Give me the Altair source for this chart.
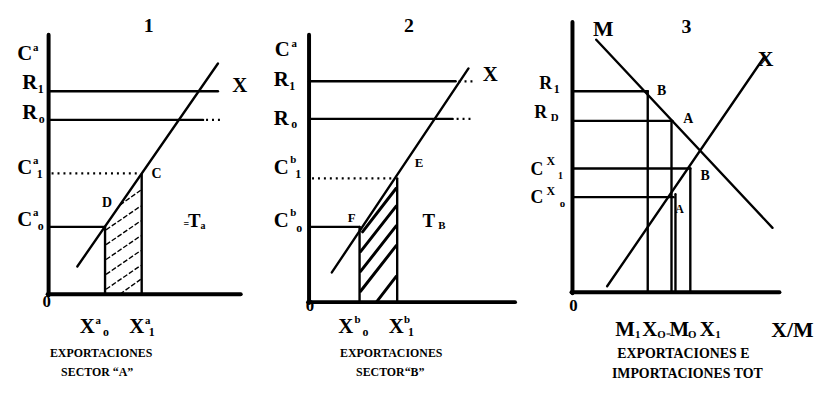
import altair as alt
import pandas as pd

# ---- diagram geometry (reference pixel units) ----
# thick axes: (x1, y1, x2, y2)
axes_segments = [
    (49, 33, 49, 296), (48, 295, 243, 295),
    (312, 33, 312, 304), (311, 303, 520, 303),
    (578, 20, 578, 294), (577, 293, 787, 293),
]
# thin solid lines
solid_segments = [
    # panel 1
    (49, 90, 220, 90), (49, 119, 205, 119), (49, 227, 106, 227),
    (106, 227, 106, 295), (143, 174, 143, 295), (78, 267, 220, 62),
    # panel 2
    (312, 80, 460, 80), (312, 118, 457, 118), (312, 227, 363, 227),
    (363, 227, 363, 303), (401, 178, 401, 303), (335, 273, 473, 67),
    # panel 3
    (578, 90, 654, 90), (578, 120, 679, 120), (578, 168, 697, 168),
    (578, 197, 680, 197), (654, 90, 654, 293), (678, 120, 678, 293),
    (682, 194, 682, 293), (697, 168, 697, 293),
    (602, 38, 780, 228), (613, 287, 772, 55),
]
# dotted lines
dotted_segments = [
    (208, 119, 226, 119), (52, 173, 141, 173),
    (463, 80, 479, 80), (461, 118, 478, 118), (315, 178, 399, 178),
]
# hatching, panel 1 (fine) and panel 2 (heavy)
hatch_fine = [
    (107, 290, 142, 266), (107, 275, 142, 251), (107, 260, 142, 236),
    (107, 245, 142, 221), (107, 230, 142, 206), (121, 205, 142, 190),
    (121, 295, 142, 280),
]
hatch_heavy = [
    (364, 292, 400, 246), (364, 272, 400, 226), (364, 252, 400, 206),
    (366, 232, 400, 188), (380, 303, 400, 277),
]

# ---- text pieces: (text, x, y, size) ----
labels = [
    # panel 1
    ("1", 150, 24, 20),
    ("C", 25, 53, 21), ("a", 36, 46, 11),
    ("R", 30, 82, 21), ("1", 41, 88, 12),
    ("R", 30, 112, 21), ("o", 42, 118, 12),
    ("C", 25, 168, 21), ("a", 36, 161, 11), ("1", 40, 174, 12),
    ("C", 25, 220, 21), ("a", 36, 213, 11), ("o", 41, 226, 12),
    ("0", 47, 303, 17),
    ("X", 242, 85, 21),
    ("D", 108, 203, 14), ("C", 158, 174, 14),
    ("=", 188, 224, 10), ("T", 196, 221, 19), ("a", 205, 226, 10),
    ("X", 88, 328, 21), ("a", 99, 322, 11), ("o", 107, 333, 12),
    ("X", 138, 328, 21), ("a", 149, 322, 11), ("1", 153, 333, 12),
    ("EXPORTACIONES", 102, 354, 12), ("SECTOR “A”", 98, 374, 12),
    # panel 2
    ("2", 413, 24, 20),
    ("C", 285, 48, 21), ("a", 297, 42, 11),
    ("R", 284, 79, 21), ("1", 295, 85, 12),
    ("R", 284, 118, 21), ("o", 297, 123, 12),
    ("C", 284, 168, 21), ("b", 296, 160, 11), ("1", 301, 174, 12),
    ("C", 284, 221, 21), ("b", 296, 213, 11), ("o", 302, 228, 12),
    ("0", 313, 307, 17),
    ("X", 495, 74, 21),
    ("E", 423, 163, 13), ("F", 355, 218, 13),
    ("T", 433, 221, 19), ("B", 446, 226, 11),
    ("X", 349, 328, 21), ("b", 361, 321, 11), ("o", 369, 333, 12),
    ("X", 400, 328, 21), ("b", 411, 321, 11), ("1", 415, 333, 12),
    ("EXPORTACIONES", 395, 354, 12), ("SECTOR“B”", 394, 374, 12),
    # panel 3
    ("M", 609, 27, 22), ("3", 693, 25, 20), ("X", 773, 58, 22),
    ("B", 668, 90, 14), ("A", 695, 118, 14), ("B", 712, 176, 14), ("A", 686, 209, 12),
    ("R", 551, 83, 18), ("1", 562, 88, 12),
    ("R", 546, 112, 18), ("D", 560, 117, 11),
    ("C", 542, 170, 18), ("X", 556, 161, 12), ("1", 566, 176, 10),
    ("C", 542, 198, 18), ("X", 556, 191, 12), ("o", 568, 204, 11),
    ("0", 579, 307, 17),
    ("M", 631, 331, 21), ("1", 644, 336, 11), ("X", 656, 331, 21), ("O", 668, 336, 11),
    ("=", 675, 335, 9), ("M", 686, 331, 21), ("O", 699, 336, 11),
    ("X", 714, 331, 21), ("1", 725, 336, 11), ("X/M", 800, 331, 22),
    ("EXPORTACIONES E", 690, 355, 14), ("IMPORTACIONES TOT", 694, 376, 14),
]

FONT = "'Liberation Serif', 'Times New Roman', 'DejaVu Serif', serif"

def seg_df(segs):
    return pd.DataFrame(segs, columns=["x", "y", "x2", "y2"])

xs = alt.Scale(domain=[8, 833], nice=False, zero=False)
ys = alt.Scale(domain=[8, 419], nice=False, zero=False, reverse=True)

def rules(segs, width, dash=None):
    kw = dict(color="black", strokeWidth=width, strokeCap="round")
    if dash:
        kw["strokeDash"] = dash
        kw["strokeCap"] = "butt"
    return alt.Chart(seg_df(segs)).mark_rule(**kw).encode(
        x=alt.X("x:Q", scale=xs, axis=None),
        y=alt.Y("y:Q", scale=ys, axis=None),
        x2="x2:Q",
        y2="y2:Q",
    )

text_df = pd.DataFrame(labels, columns=["t", "x", "y", "s"])
texts = alt.Chart(text_df).mark_text(
    font=FONT, fontWeight="bold", color="black", align="center", baseline="middle"
).encode(
    x=alt.X("x:Q", scale=xs, axis=None),
    y=alt.Y("y:Q", scale=ys, axis=None),
    text="t:N",
    size=alt.Size("s:Q", scale=None, legend=None),
)

chart = alt.layer(
    rules(hatch_fine, 1.4, [5, 2]),
    rules(hatch_heavy, 3.0),
    rules(dotted_segments, 2.2, [2, 4]),
    rules(solid_segments, 2.4),
    rules(axes_segments, 4.0),
    texts,
).properties(
    width=825, height=411, padding=0, autosize=alt.AutoSizeParams(type="none"),
    background="white",
).configure_view(stroke=None)

chart.save("out.html", embed_options={"renderer": "svg", "actions": False})
